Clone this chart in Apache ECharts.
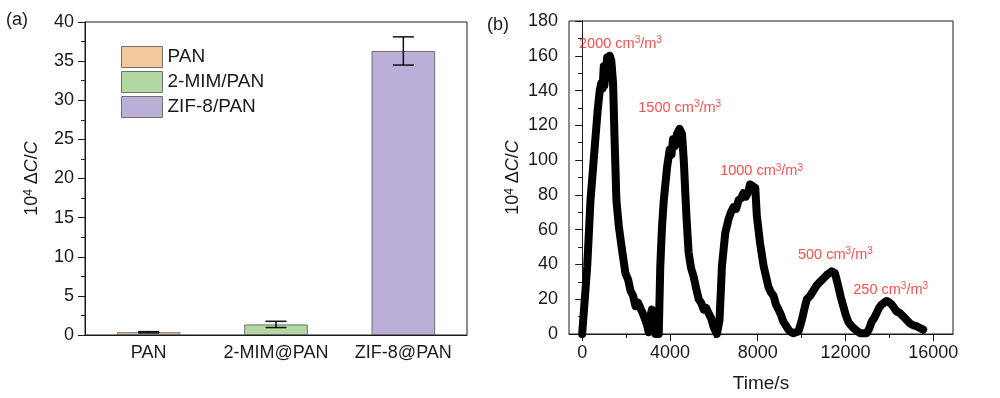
<!DOCTYPE html>
<html>
<head>
<meta charset="utf-8">
<script src="https://cdn.jsdelivr.net/npm/echarts@6/dist/echarts.min.js"></script>
<style>
  html, body { margin: 0; padding: 0; background: #fff; }
  #chart { width: 1000px; height: 398px; }
</style>
</head>
<body>
<div id="chart"></div>
<script>
// (a) bar panel
var samples = ["PAN", "2-MIM@PAN", "ZIF-8@PAN"];
var legendNames = ["PAN", "2-MIM/PAN", "ZIF-8/PAN"];
var response = [0.35, 1.35, 36.3];
var responseErr = [0.08, 0.4, 1.8];
var barColors = ["#f3c89b", "#b2d9a1", "#bbafd7"];

// (b) response vs time
var timeS = [0, 120, 230, 380, 500, 600, 710, 800, 865, 930, 985, 1015, 1080, 1140, 1200, 1260, 1330, 1410,
  1470, 1560, 1670, 1820, 1970, 2100, 2200, 2320, 2430, 2550, 2650, 2760, 2880, 2960, 3030, 3100, 3180, 3260,
  3340, 3490, 3560, 3640, 3720, 3870, 3990, 4070, 4140, 4230, 4320, 4440, 4550, 4630, 4750, 4850, 4960, 5080,
  5200, 5310, 5420, 5540, 5650, 5760, 5880, 5990, 6140, 6260, 6370, 6520, 6670, 6780, 6900, 7020, 7130, 7240,
  7350, 7460, 7580, 7650, 7730, 7890, 7960, 8110, 8270, 8380, 8490, 8600, 8720, 8830, 8950, 9060, 9170, 9280,
  9400, 9520, 9630, 9740, 9860, 10010, 10120, 10240, 10390, 10540, 10690, 10840, 11000, 11150, 11270, 11370,
  11450, 11520, 11600, 11680, 11790, 11900, 12010, 12130, 12250, 12360, 12500, 12660, 12820, 12970, 13080,
  13190, 13300, 13420, 13530, 13650, 13760, 13880, 14000, 14100, 14220, 14330, 14480, 14640, 14790, 14940,
  15090, 15240, 15390, 15540];
var signal = [0, 20, 39, 77, 96, 112, 129, 140, 144, 141, 154, 143, 152, 159, 156, 160, 157, 144,
  115, 77, 62, 48, 35, 31, 25, 22, 16, 18, 15, 12, 8, 5, 1, 10, 14, 4,
  0, 0, 39, 62, 77, 96, 106, 103, 112, 108, 115, 118, 115, 100, 68, 47, 38, 33,
  26, 20, 18, 14, 15, 12, 9, 4, 0, 8, 39, 58, 66, 70, 73, 72, 77, 78,
  81, 79, 82, 86, 85, 84, 68, 52, 39, 33, 27, 24, 22, 17, 14, 11, 7, 5,
  2.5, 1, 0.5, 1, 1.5, 8, 14, 20, 22, 25, 28, 30, 32, 34, 35, 36,
  35, 35, 31, 27, 21, 16, 11, 7, 5, 3.5, 2, 0.5, 0.5, 0.5, 3,
  7, 9, 12, 15, 17, 18, 19, 18, 17, 15, 13, 12, 10, 8, 6,
  5, 4.5, 3.5, 2.5];
var timeTicks = [0, 4000, 8000, 12000, 16000];
var timeMinorTicks = [2000, 6000, 10000, 14000];
var doseLabels = ["2000", "1500", "1000", "500", "250"];
var doseAnchorT = [1745, 4445, 8175, 11540, 14060];
var doseAnchorV = [167, 130, 93.5, 45.6, 25.5];

var FONT = "Liberation Sans, Arial, sans-serif";
var INK = "#1a1a1a";
var RED = "#ff2020";

var chart = echarts.init(document.getElementById("chart"));

var nameRich = {
  a: { fontSize: 18, fontFamily: FONT, color: INK },
  s: { fontSize: 12, fontFamily: FONT, color: INK, verticalAlign: "top", lineHeight: 18 },
  i: { fontSize: 18, fontFamily: FONT, color: INK, fontStyle: "italic" }
};
var yName = "{a|10}{s|4}{a| \u0394}{i|C}{a|/}{i|C}";

var barSeries = legendNames.map(function (name, k) {
  return {
    name: name,
    type: "bar",
    stack: "one",
    xAxisIndex: 0,
    yAxisIndex: 0,
    barWidth: "50%",
    data: samples.map(function (s, i) { return i === k ? response[i] : "-"; }),
    itemStyle: { color: barColors[k], borderColor: "#707070", borderWidth: 1 }
  };
});

var errData = samples.map(function (s, i) { return [i, response[i], responseErr[i]]; });

var doseData = doseLabels.map(function (d, i) { return [doseAnchorT[i], doseAnchorV[i], d]; });

var option = {
  animation: false,
  backgroundColor: "#fff",
  textStyle: { fontFamily: FONT },
  graphic: [
    { type: "text", left: 6, top: 11, style: { text: "(a)", font: "18px " + FONT, fill: INK } },
    { type: "text", left: 487, top: 16, style: { text: "(b)", font: "18px " + FONT, fill: INK } }
  ],
  legend: {
    data: legendNames,
    orient: "vertical",
    left: 116,
    top: 41,
    icon: "rect",
    itemWidth: 41,
    itemHeight: 21,
    itemGap: 3,
    textStyle: { fontSize: 19, fontFamily: FONT, color: INK },
    itemStyle: { borderColor: "#707070", borderWidth: 1 }
  },
  grid: [
    { left: 85, right: 533, top: 22, bottom: 63, show: true, borderColor: INK, borderWidth: 1 },
    { left: 569, right: 47, top: 21, bottom: 64, show: true, borderColor: INK, borderWidth: 1 }
  ],
  xAxis: [
    {
      gridIndex: 0,
      type: "category",
      data: samples,
      axisLine: { lineStyle: { color: INK } },
      axisTick: { show: false },
      axisLabel: { interval: 0, fontSize: 18, fontFamily: FONT, color: INK, margin: 9 }
    },
    {
      gridIndex: 1,
      type: "value",
      min: -600,
      max: 16900,
      name: "Time/s",
      nameLocation: "middle",
      nameGap: 40,
      nameTextStyle: { fontSize: 19, fontFamily: FONT, color: INK },
      axisLine: { onZero: false, lineStyle: { color: INK } },
      axisTick: { customValues: timeTicks, length: 7, lineStyle: { color: INK } },
      axisLabel: {
        customValues: timeTicks,
        formatter: function (v) { return String(v); },
        fontSize: 18, fontFamily: FONT, color: INK, margin: 10
      },
      splitLine: { show: false }
    },
    {
      gridIndex: 1,
      type: "value",
      min: -600,
      max: 16900,
      position: "bottom",
      axisLine: { show: false },
      axisTick: { customValues: timeMinorTicks, length: 4, lineStyle: { color: INK } },
      axisLabel: { show: false },
      splitLine: { show: false }
    }
  ],
  yAxis: [
    {
      gridIndex: 0,
      type: "value",
      min: 0,
      max: 40,
      interval: 5,
      name: yName,
      nameLocation: "middle",
      nameGap: 44,
      nameTextStyle: { rich: nameRich },
      axisLine: { show: true, lineStyle: { color: INK } },
      axisTick: { show: true, length: 7, lineStyle: { color: INK } },
      minorTick: { show: true, splitNumber: 2, length: 4, lineStyle: { color: INK } },
      axisLabel: { fontSize: 18, fontFamily: FONT, color: INK, margin: 11 },
      splitLine: { show: false }
    },
    {
      gridIndex: 1,
      type: "value",
      min: 0,
      max: 180,
      interval: 20,
      name: yName,
      nameLocation: "middle",
      nameGap: 47,
      nameTextStyle: { rich: nameRich },
      axisLine: { show: true, lineStyle: { color: INK } },
      axisTick: { show: true, length: 7, lineStyle: { color: INK } },
      minorTick: { show: true, splitNumber: 2, length: 4, lineStyle: { color: INK } },
      axisLabel: { fontSize: 18, fontFamily: FONT, color: INK, margin: 11 },
      splitLine: { show: false }
    }
  ],
  series: barSeries.concat([
    {
      name: "err",
      type: "custom",
      xAxisIndex: 0,
      yAxisIndex: 0,
      data: errData,
      encode: { x: 0, y: 1 },
      z: 5,
      renderItem: function (params, api) {
        var i = api.value(0), v = api.value(1), e = api.value(2);
        var top = api.coord([i, v + e]);
        var bot = api.coord([i, v - e]);
        var hw = 10.5;
        var st = { stroke: "#111", lineWidth: 1.5 };
        return {
          type: "group",
          children: [
            { type: "line", shape: { x1: top[0], y1: top[1], x2: bot[0], y2: bot[1] }, style: st },
            { type: "line", shape: { x1: top[0] - hw, y1: top[1], x2: top[0] + hw, y2: top[1] }, style: st },
            { type: "line", shape: { x1: bot[0] - hw, y1: bot[1], x2: bot[0] + hw, y2: bot[1] }, style: st }
          ]
        };
      }
    },
    {
      name: "response",
      type: "line",
      xAxisIndex: 1,
      yAxisIndex: 1,
      data: timeS.map(function (t, i) { return [t, signal[i]]; }),
      showSymbol: false,
      lineStyle: { color: "#000", width: 8, join: "round", cap: "round" },
      z: 3
    },
    {
      name: "dose",
      type: "scatter",
      xAxisIndex: 1,
      yAxisIndex: 1,
      data: doseData,
      symbolSize: 0,
      silent: true,
      label: {
        show: true,
        position: "inside",
        formatter: function (p) { return "{n|" + p.data[2] + " cm}{s|3}{n|/m}{s|3}"; },
        rich: {
          n: { fontSize: 14.5, fontFamily: FONT, color: RED, lineHeight: 17 },
          s: { fontSize: 10, fontFamily: FONT, color: RED, verticalAlign: "top", lineHeight: 17 }
        }
      }
    }
  ])
};

chart.setOption(option);
</script>
</body>
</html>
